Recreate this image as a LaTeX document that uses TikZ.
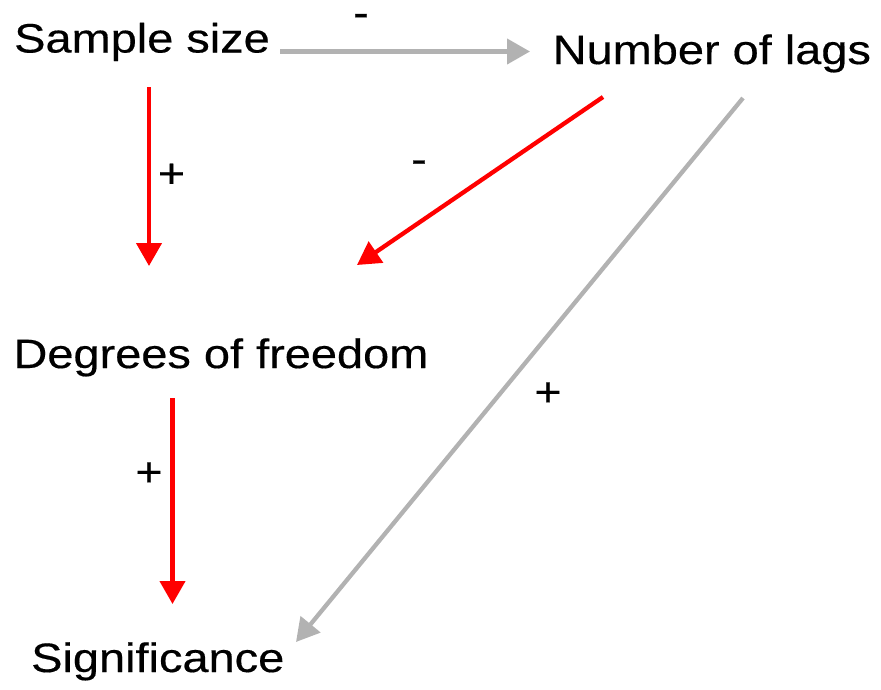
\documentclass[tikz,border=0pt]{standalone}
\usepackage{fontspec}
\setmainfont{Liberation Sans}
\newfontfamily\labfont[FakeStretch=1.145,FakeBold=0.4]{Liberation Sans}
\usetikzlibrary{arrows.meta}
\definecolor{arrgray}{RGB}{178,178,178}
\definecolor{arrred}{RGB}{255,0,0}
\tikzset{
  term/.style={anchor=base west, inner sep=0pt, font=\labfont\fontsize{41}{46}\selectfont, text=black},
  sign/.style={anchor=base, inner sep=0pt, font=\labfont\fontsize{41}{46}\selectfont, text=black},
  link/.style={line width=4.3pt, -{Triangle[length=23pt,width=25pt]}},
  graylink/.style={link, draw=arrgray},
  redlink/.style={link, draw=arrred}
}
\begin{document}
\begin{tikzpicture}[x=1pt,y=-1pt]
\useasboundingbox (0,0) rectangle (881,689);
% terms
\node[term] (ss) at (14,52.5) {Sample size};
\node[term] (nl) at (552.5,64) {Number of lags};
\node[term] (df) at (13.3,368) {Degrees of freedom};
\node[term] (sg) at (31,672) {Significance};
% connector end points
\coordinate (ssE) at (280,51.5);
\coordinate (nlW) at (530,51.5);
\coordinate (ssS) at (149,87);
\coordinate (dfN1) at (149,266);
\coordinate (nlSW) at (603,97);
\coordinate (dfNE) at (357,265);
\coordinate (dfS) at (172.5,398);
\coordinate (sgN) at (172.5,604);
\coordinate (nlS) at (743,98);
\coordinate (sgNE) at (296,642);
% connectors
\draw[graylink] (ssE) -- (nlW);
\draw[redlink] (ssS) -- (dfN1);
\draw[redlink] (nlSW) -- (dfNE);
\draw[redlink] (dfS) -- (sgN);
\draw[graylink] (nlS) -- (sgNE);
% signs
\node[sign] (m1) at (361,26.5) {-};
\node[sign] (p1) at (171.5,187.4) {+};
\node[sign] (m2) at (419,173) {-};
\node[sign] (p2) at (149,486) {+};
\node[sign] (p3) at (548,406) {+};
\end{tikzpicture}
\end{document}
